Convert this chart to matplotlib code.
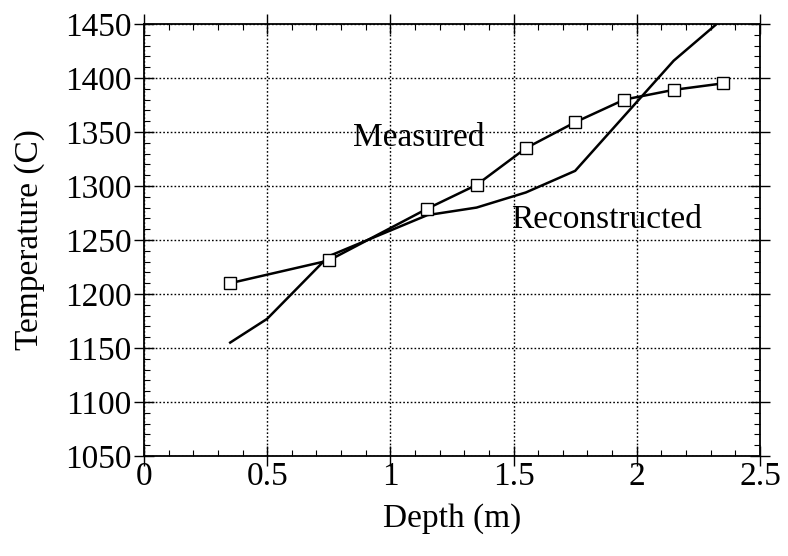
import matplotlib
matplotlib.use("Agg")
import matplotlib.pyplot as plt
from matplotlib.ticker import MultipleLocator

depth_measured = [0.35, 0.75, 1.15, 1.35, 1.55, 1.75, 1.95, 2.15, 2.35]
temp_measured = [1210, 1231, 1279, 1301, 1335, 1359, 1380, 1389, 1395]

depth_recon = [0.35, 0.5, 0.75, 1.15, 1.35, 1.55, 1.75, 2.15, 2.35]
temp_recon = [1155, 1177, 1235, 1273, 1280, 1294, 1314, 1416, 1455]

plt.rcParams["font.family"] = ["Liberation Serif", "DejaVu Serif"]
plt.rcParams["font.size"] = 24

fig = plt.figure(figsize=(7.88, 5.56), dpi=100)
ax = fig.add_axes([0.1827, 0.1799, 0.7817, 0.7770])

ax.plot(depth_recon, temp_recon, color="black", lw=1.8)
ax.plot(depth_measured, temp_measured, color="black", lw=1.8,
        marker="s", markersize=9, markerfacecolor="white",
        markeredgecolor="black", markeredgewidth=1.0)

ax.text(0.85, 1345, "Measured", va="center", ha="left")
ax.text(1.49, 1269, "Reconstructed", va="center", ha="left")

ax.set_xlim(0, 2.5)
ax.set_ylim(1050, 1450)
ax.xaxis.set_major_locator(MultipleLocator(0.5))
ax.xaxis.set_minor_locator(MultipleLocator(0.1))
ax.yaxis.set_major_locator(MultipleLocator(50))
ax.yaxis.set_minor_locator(MultipleLocator(10))
ax.xaxis.set_major_formatter(plt.FuncFormatter(lambda v, p: f"{v:g}"))

ax.tick_params(which="major", direction="inout", length=14, width=1.0,
               top=True, right=True, pad=2)
ax.tick_params(axis="x", which="major", pad=-3)
ax.tick_params(which="minor", direction="in", length=4, width=0.8,
               top=True, right=True)

ax.grid(True, which="major", color="black", linestyle=(0, (1.2, 1.5)), lw=1.0)
for s in ax.spines.values():
    s.set_linewidth(1.3)

ax.set_xlabel("Depth (m)", labelpad=8)
ax.set_ylabel("Temperature (C)", labelpad=14)

fig.savefig("out.png", dpi=100)
